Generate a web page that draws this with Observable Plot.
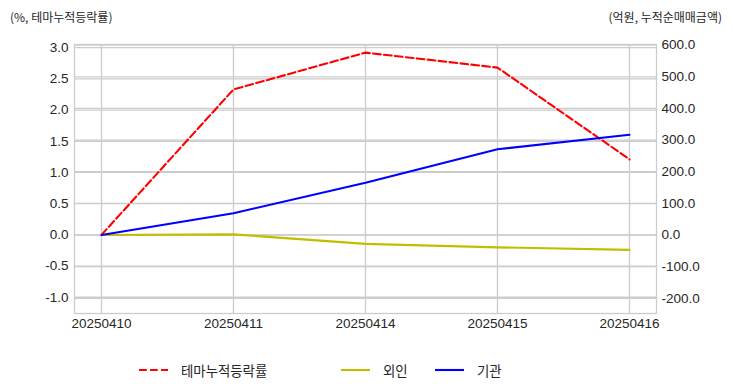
<!DOCTYPE html>
<html>
<head>
<meta charset="utf-8">
<script src="https://cdn.jsdelivr.net/npm/d3@7"></script>
<script src="https://cdn.jsdelivr.net/npm/@observablehq/plot@0.6"></script>
<style>
  html, body { margin: 0; padding: 0; background: #fff; }
  #wrap { position: relative; width: 732px; height: 392px; overflow: hidden; font-family: "Liberation Sans", "Noto Sans CJK KR", sans-serif; color: #262626; }
  #wrap svg.plot { position: absolute; left: 0; top: 0; }
  .hdr { position: absolute; top: 7px; font-family: "Noto Sans CJK KR", "Liberation Sans", sans-serif; font-size: 12px; line-height: 20px; white-space: nowrap; color: #262626; }
  .leg { position: absolute; top: 360px; height: 20px; display: flex; align-items: center; font-family: "Noto Sans CJK KR", sans-serif; font-size: 13.4px; color: #262626; white-space: nowrap; }
  .leg svg { display: block; margin-right: 13px; }
</style>
</head>
<body>
<div id="wrap"></div>
<script>
// ---- data ----
const dates = ["20250410", "20250411", "20250414", "20250415", "20250416"];
const themeReturn = [0.0, 2.33, 2.92, 2.68, 1.21];      // 테마누적등락률 (%), left axis
const foreignNet = [0, 2, -28, -39, -47];              // 외인 (억원), right axis
const institutionNet = [0, 69, 165, 271, 317];         // 기관 (억원), right axis
const leftTicks = [-1.0, -0.5, 0.0, 0.5, 1.0, 1.5, 2.0, 2.5, 3.0];
const rightTicks = [-200, -100, 0, 100, 200, 300, 400, 500, 600];
const leftDomain = [-1.26, 3.05];
const rightDomain = [-248, 602];
const seriesNames = ["테마누적등락률", "외인", "기관"];
const seriesColors = ["#ff0000", "#bfbf00", "#0000ff"];
const leftLabel = "(%, 테마누적등락률)";
const rightLabel = "(억원, 누적순매매금액)";

// map right-axis values into left-axis units (dual axis)
const r2l = d3.scaleLinear().domain(rightDomain).range(leftDomain);

const themeData = dates.map((d, i) => ({date: d, v: themeReturn[i]}));
const foreignData = dates.map((d, i) => ({date: d, v: r2l(foreignNet[i])}));
const instData = dates.map((d, i) => ({date: d, v: r2l(institutionNet[i])}));

const gridColor = "#cccccc";
const fmtR = v => (Math.round(r2l.invert(v) * 10) / 10 + 0).toFixed(1);

const chart = Plot.plot({
  width: 732,
  height: 392,
  marginTop: 44,
  marginBottom: 79,
  marginLeft: 74,
  marginRight: 76,
  style: {fontFamily: "'Liberation Sans', 'Noto Sans CJK KR', sans-serif", fontSize: "13.5px", color: "#262626", background: "#fff"},
  x: {type: "point", domain: dates, padding: 0.2},
  y: {domain: leftDomain},
  marks: [
    Plot.gridX(dates, {stroke: gridColor, strokeOpacity: 1, strokeWidth: 1.3}),
    Plot.gridY(leftTicks, {stroke: gridColor, strokeOpacity: 1, strokeWidth: 1.3}),
    Plot.gridY(rightTicks.map(r2l), {stroke: gridColor, strokeOpacity: 1, strokeWidth: 1.3}),
    Plot.frame({stroke: gridColor, strokeWidth: 1.3}),
    Plot.axisX(dates, {tickSize: 0, tickPadding: 5, label: null}),
    Plot.axisY(leftTicks, {anchor: "left", tickSize: 0, tickPadding: 6, tickFormat: d => d.toFixed(1), label: null}),
    Plot.axisY(rightTicks.map(r2l), {anchor: "right", tickSize: 0, tickPadding: 5, tickFormat: fmtR, label: null}),
    Plot.line(themeData, {x: "date", y: "v", stroke: seriesColors[0], strokeWidth: 2.1, strokeDasharray: "7.7,3.3"}),
    Plot.line(foreignData, {x: "date", y: "v", stroke: seriesColors[1], strokeWidth: 2.1}),
    Plot.line(instData, {x: "date", y: "v", stroke: seriesColors[2], strokeWidth: 2.1})
  ]
});
chart.classList.add("plot");
const wrap = document.getElementById("wrap");
wrap.appendChild(chart);

// axis titles
const hl = document.createElement("div");
hl.className = "hdr"; hl.style.left = "10px"; hl.textContent = leftLabel;
wrap.appendChild(hl);
const hr = document.createElement("div");
hr.className = "hdr"; hr.style.right = "10px"; hr.textContent = rightLabel;
wrap.appendChild(hr);

// legend
const legendX = [139, 341, 435];
seriesNames.forEach((name, i) => {
  const item = document.createElement("div");
  item.className = "leg";
  item.style.left = legendX[i] + "px";
  const dash = i === 0 ? 'stroke-dasharray="7.7,3.3"' : '';
  item.innerHTML = `<svg width="29" height="10"><line x1="0" y1="5" x2="29" y2="5" stroke="${seriesColors[i]}" stroke-width="2.1" ${dash}/></svg><span>${name}</span>`;
  wrap.appendChild(item);
});
</script>
</body>
</html>
